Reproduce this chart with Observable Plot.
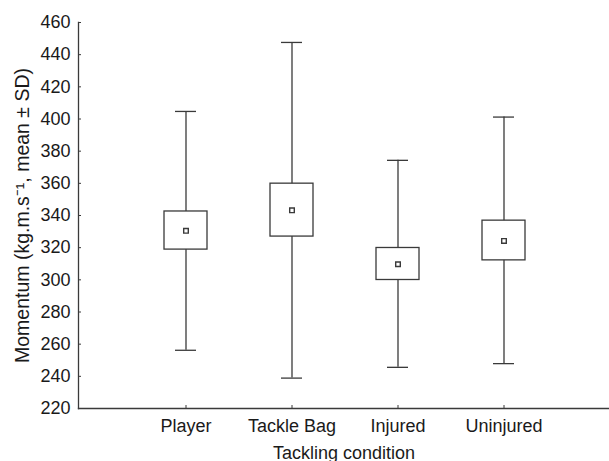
<!DOCTYPE html>
<html>
<head>
<meta charset="utf-8">
<script src="https://cdn.jsdelivr.net/npm/d3@7"></script>
<script src="https://cdn.jsdelivr.net/npm/@observablehq/plot@0.6"></script>
<style>
  html, body { margin: 0; padding: 0; background: #fff; }
  #chart svg { display: block; }
</style>
</head>
<body>
<div id="chart"></div>
<script>
const categories = ["Player", "Tackle Bag", "Injured", "Uninjured"];
const means      = [330.5, 343.2, 309.7, 324.2];
const boxLow     = [318.8, 326.9, 299.9, 312.1];
const boxHigh    = [342.5, 359.8, 319.8, 336.8];
const sdLow      = [256.2, 238.9, 245.6, 247.9];
const sdHigh     = [404.7, 447.6, 374.3, 401.2];
const yTicks     = [220, 240, 260, 280, 300, 320, 340, 360, 380, 400, 420, 440, 460];

const data = categories.map((c, i) => ({
  cat: c, mean: means[i], lo: boxLow[i], hi: boxHigh[i], sdLo: sdLow[i], sdHi: sdHigh[i]
}));

const ink = "#3a3a3a";
const textInk = "#1a1a1a";
const font = "'Liberation Sans', Arial, sans-serif";

const chart = Plot.plot({
  width: 609,
  height: 461,
  marginLeft: 78,
  marginRight: 0,
  marginTop: 22,
  marginBottom: 53,
  style: {fontFamily: font, fontSize: "18px", color: textInk, background: "#fff"},
  x: {type: "band", domain: categories, range: [78, 611], paddingInner: 0.591, paddingOuter: 0.796},
  y: {domain: [220, 460]},
  marks: [
    Plot.ruleX(data, {x: "cat", y1: "sdLo", y2: "sdHi", stroke: ink, strokeWidth: 1.3}),
    Plot.tickY(data, {x: "cat", y: "sdLo", stroke: ink, strokeWidth: 1.3, insetLeft: 11, insetRight: 11}),
    Plot.tickY(data, {x: "cat", y: "sdHi", stroke: ink, strokeWidth: 1.3, insetLeft: 11, insetRight: 11}),
    Plot.barY(data, {x: "cat", y1: "lo", y2: "hi", fill: "white", stroke: ink, strokeWidth: 1.3}),
    Plot.dot(data, {x: "cat", y: "mean", symbol: "square", r: 2.6, fill: "white", stroke: ink, strokeWidth: 1.4}),
    // axis lines
    Plot.frame({anchor: "left", stroke: ink, strokeWidth: 1.3}),
    Plot.frame({anchor: "bottom", stroke: ink, strokeWidth: 1.3}),
    // inward ticks
    Plot.axisY(yTicks, {anchor: "left", tickSize: 3, dx: 3, text: null, stroke: ink, label: null}),
    Plot.axisX(categories, {anchor: "bottom", tickSize: 3, dy: -3, text: null, stroke: ink, label: null}),
    // tick labels
    Plot.axisY(yTicks, {anchor: "left", tickSize: 0, tickPadding: 8, label: null, fontSize: 18, fill: textInk}),
    Plot.axisX(categories, {anchor: "bottom", tickSize: 0, tickPadding: 11, label: null, fontSize: 18, fill: textInk}),
    // axis titles
    Plot.text(["Momentum (kg.m.s\u207B\u00B9, mean \u00B1 SD)"], {frameAnchor: "left", textAnchor: "middle", lineAnchor: "middle", rotate: -90, dx: -56, fontSize: 19.5, fill: textInk}),
    Plot.text(["Tackling condition"], {frameAnchor: "bottom", textAnchor: "middle", dy: 45, fontSize: 18, fill: textInk, lineAnchor: "middle"})
  ]
});
document.getElementById("chart").appendChild(chart);
</script>
</body>
</html>
